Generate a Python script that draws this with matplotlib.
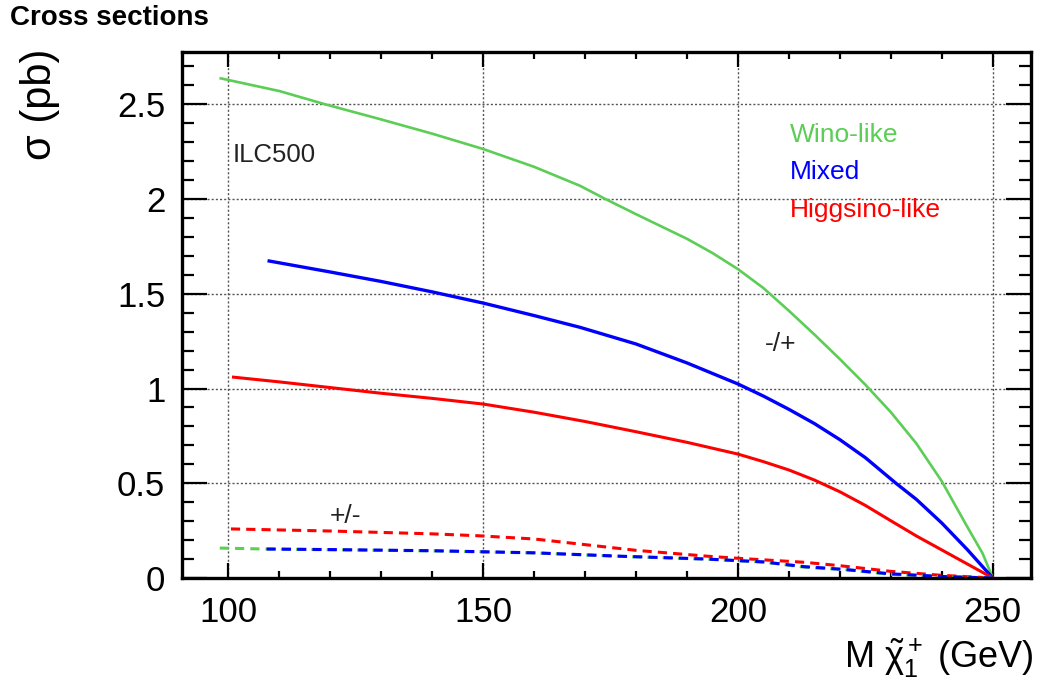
import matplotlib
matplotlib.use('Agg')
import matplotlib.pyplot as plt
from matplotlib.ticker import MultipleLocator

plt.rcParams['font.family'] = ['Liberation Sans', 'DejaVu Sans']
plt.rcParams['mathtext.fontset'] = 'custom'
plt.rcParams['mathtext.rm'] = 'Liberation Sans'
plt.rcParams['mathtext.it'] = 'Liberation Sans'

# --- dados (massa em GeV, sigma em pb) ---
m_wino = [98.5, 110, 119, 130, 140, 150, 160, 169, 174, 180, 185, 190, 195,
          200, 205, 210, 215, 220, 225, 230, 235, 240, 245, 248, 250]
s_wino = [2.637, 2.57, 2.50, 2.42, 2.345, 2.264, 2.17, 2.07, 2.0, 1.92, 1.855,
          1.79, 1.715, 1.63, 1.53, 1.41, 1.285, 1.155, 1.02, 0.875, 0.71,
          0.51, 0.27, 0.13, 0.0]

m_mixed = [108, 120, 130, 140, 150, 160, 169, 180, 190, 200, 205, 210, 215,
           220, 225, 231, 235, 240, 245, 250]
s_mixed = [1.673, 1.615, 1.565, 1.51, 1.451, 1.385, 1.323, 1.235, 1.135, 1.024,
           0.96, 0.89, 0.815, 0.73, 0.635, 0.5, 0.415, 0.29, 0.15, 0.0]

m_higgs = [101, 110, 120, 130, 140, 150, 160, 170, 180, 190, 200, 205, 210,
           215, 220, 225, 230, 235, 240, 245, 250]
s_higgs = [1.06, 1.035, 1.005, 0.975, 0.948, 0.918, 0.875, 0.826, 0.772, 0.716,
           0.654, 0.614, 0.57, 0.517, 0.455, 0.383, 0.302, 0.222, 0.148, 0.074,
           0.0]

# +/- (tracejado)
m_higgs_pm = [100.5, 120, 140, 149, 160, 180, 194, 200, 213, 220, 230, 240, 250]
s_higgs_pm = [0.259, 0.248, 0.233, 0.223, 0.206, 0.146, 0.115, 0.104, 0.083,
              0.065, 0.035, 0.014, 0.0]

m_wino_pm = [98.3, 107, 120, 140, 160, 177, 194, 205, 213, 221, 230, 240, 250]
s_wino_pm = [0.158, 0.153, 0.149, 0.143, 0.132, 0.114, 0.099, 0.084, 0.057,
             0.044, 0.019, 0.007, 0.0]

m_mixed_pm = [107.5, 120, 140, 160, 177, 194, 205, 213, 221, 230, 240, 250]
s_mixed_pm = [0.153, 0.150, 0.144, 0.133, 0.115, 0.100, 0.085, 0.060, 0.045,
              0.022, 0.008, 0.0]

verde = '#5ccd55'
azul = '#0000ff'
vermelho = '#ff0000'

W, H = 1039.0, 689.0


def px(x, y):
    # pixel (a partir do topo) -> fracao da figura
    return x / W, 1 - y / H


fig = plt.figure(figsize=(10.39, 6.89), dpi=100)
ax = fig.add_axes([0.1752, 0.1611, 0.9923 - 0.1752, 0.9245 - 0.1611])

# curvas -/+
ax.plot(m_wino, s_wino, color=verde, lw=1.9)
ax.plot(m_mixed, s_mixed, color=azul, lw=2.4)
ax.plot(m_higgs, s_higgs, color=vermelho, lw=2.2)

# curvas +/-
ax.plot(m_higgs_pm, s_higgs_pm, color=vermelho, lw=2.2, dashes=(3, 2))
ax.plot(m_wino_pm, s_wino_pm, color=verde, lw=2.2, dashes=(3, 2))
ax.plot(m_mixed_pm, s_mixed_pm, color=azul, lw=2.2, dashes=(3, 2))

ax.set_xlim(90.9, 257.5)
ax.set_ylim(0, 2.776)

ax.xaxis.set_major_locator(MultipleLocator(50))
ax.xaxis.set_minor_locator(MultipleLocator(10))
ax.yaxis.set_major_locator(MultipleLocator(0.5))
ax.yaxis.set_minor_locator(MultipleLocator(0.1))
ax.set_yticks([0, 0.5, 1, 1.5, 2, 2.5])
ax.set_yticklabels(['0', '0.5', '1', '1.5', '2', '2.5'])

ax.grid(True, which='major', color='#555555', lw=1.0, ls=(0, (1.5, 1.5)))

ax.tick_params(which='both', direction='in', top=True, right=True,
               labelsize=25, width=1.6, colors='black')
ax.tick_params(axis='x', which='major', length=11, pad=13)
ax.tick_params(axis='x', which='minor', length=5)
ax.tick_params(axis='y', which='major', length=18, pad=12)
ax.tick_params(axis='y', which='minor', length=8.5)
for sp in ax.spines.values():
    sp.set_linewidth(2.4)

# textos
fig.text(*px(10, 18), 'Cross sections', fontsize=20,
         fontweight='bold', va='center', ha='left')
fig.text(*px(40, 49), 'σ (pb)', fontsize=30, rotation=90,
         ha='center', va='top')
fig.text(*px(1034, 668), r'M $\tilde{\chi}_1^+$ (GeV)', fontsize=26,
         ha='right', va='baseline')

fig.text(*px(233, 162), 'ILC500', fontsize=18.5, color='#222222')
fig.text(*px(790, 142), 'Wino-like', fontsize=19, color=verde)
fig.text(*px(790, 179), 'Mixed', fontsize=19, color=azul)
fig.text(*px(790, 217), 'Higgsino-like', fontsize=19, color=vermelho)
fig.text(*px(765, 351), '-/+', fontsize=19, color='#222222')
fig.text(*px(330, 523), '+/-', fontsize=19, color='#222222')

fig.savefig('out.png', dpi=100)
